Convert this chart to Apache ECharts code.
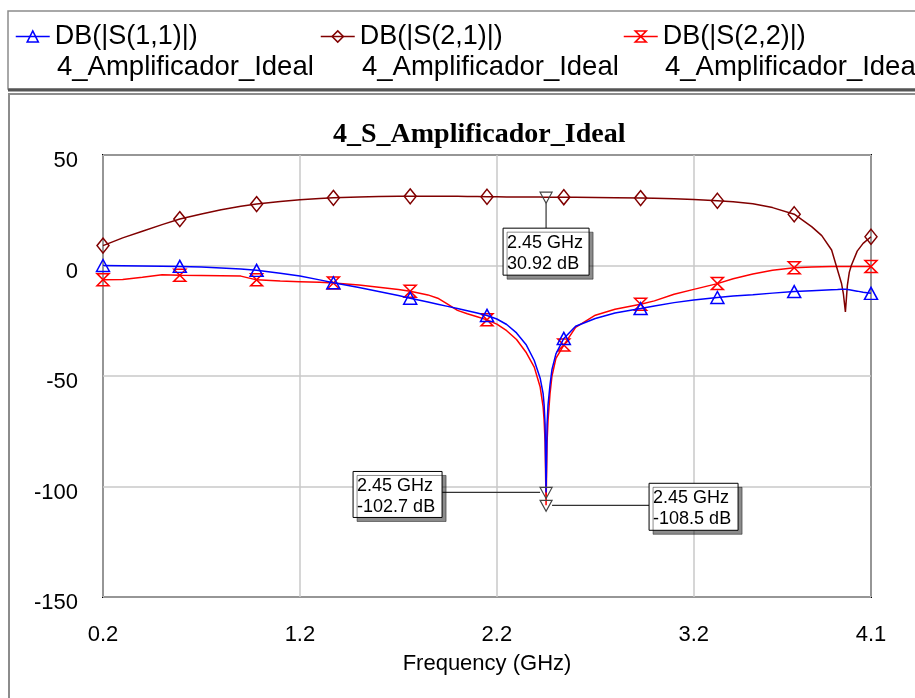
<!DOCTYPE html>
<html>
<head>
<meta charset="utf-8">
<title>4_S_Amplificador_Ideal</title>
<script src="https://cdn.jsdelivr.net/npm/echarts@6/dist/echarts.min.js"></script>
<style>
    html, body { margin: 0; padding: 0; background: #fff; }
    #chart { width: 915px; height: 698px; }
</style>
</head>
<body>
<div id="chart"></div>
<script>
    // frecuencias (GHz), mismas para las tres trazas
    const freq = [
        0.2, 0.3, 0.4, 0.5, 0.59, 0.7, 0.8, 0.9, 0.98,
        1.1, 1.2, 1.3, 1.37, 1.5, 1.6, 1.7, 1.76, 1.85, 1.9, 1.95, 2.0, 2.05, 2.1, 2.15,
        2.2, 2.25, 2.3, 2.35, 2.39, 2.42, 2.435, 2.44, 2.445, 2.45, 2.455, 2.46, 2.47, 2.48, 2.5, 2.54,
        2.6, 2.7, 2.8, 2.93, 3.0, 3.1, 3.2, 3.32, 3.4, 3.5, 3.6, 3.71,
        3.8, 3.85, 3.9, 3.93, 3.95, 3.96, 3.97, 3.98, 3.99, 4.0, 4.03, 4.06, 4.1
    ];
    const s11 = [
        0, -0.1, -0.2, -0.3, -0.4, -0.7, -1.1, -1.6, -2.2,
        -3.5, -4.8, -6.5, -7.8, -10, -11.8, -13.6, -14.8, -16.5, -17.5, -18.5, -19.5, -20.5, -21.5, -22.6,
        -24.2, -26.7, -30.5, -36, -43, -51, -58, -63, -72, -102.7, -72, -63, -54, -47, -40, -33,
        -27.5, -24, -21.5, -19.5, -18.3, -16.8, -15.6, -14.5, -13.8, -13.2, -12.5, -11.8,
        -11.4, -11.2, -11, -10.9, -10.8, -10.8, -10.8, -10.9, -11, -11.2, -11.6, -12.1, -12.6
    ];
    const s21 = [
        9, 12.5, 15.5, 18.5, 21, 23.3, 25.2, 26.8, 27.8,
        29, 29.8, 30.3, 30.6, 31, 31.2, 31.3, 31.3, 31.3, 31.3, 31.3, 31.3, 31.2, 31.2, 31.1,
        31.1, 31.0, 31.0, 31.0, 30.95, 30.95, 30.93, 30.92, 30.92, 30.92, 30.92, 30.9, 30.9, 30.9, 30.9, 30.9,
        30.9, 30.8, 30.7, 30.5, 30.4, 30.2, 29.9, 29.3, 28.8, 27.9, 26.2, 23.2,
        17.5, 13.5, 7, -2, -8, -13, -21, -9, -3, 0, 6.5, 10, 13
    ];
    const s22 = [
        -6.4, -6.3, -5.3, -4.2, -4.4, -4.5, -4.6, -4.8, -6.5,
        -7, -7.3, -7.6, -7.9, -8.8, -9.8, -10.9, -11.7, -13.3, -14.8, -17.5, -20.3, -21.8, -23.2, -24.6,
        -26.5, -29.5, -33.5, -39.5, -46, -55, -64, -70, -80, -108.5, -80, -70, -58, -50, -42, -36,
        -28, -22.5, -19.8, -17.5, -16, -13, -10.8, -8.2, -6, -3.8, -2.2, -1,
        -0.7, -0.6, -0.5, -0.5, -0.5, -0.5, -0.5, -0.5, -0.5, -0.5, -0.5, -0.5, -0.5
    ];
    // puntos donde se dibujan los simbolos
    const markerFreq = [0.2, 0.59, 0.98, 1.37, 1.76, 2.15, 2.54, 2.93, 3.32, 3.71, 4.1];

    const seriesNames = ['DB(|S(1,1)|)', 'DB(|S(2,1)|)', 'DB(|S(2,2)|)'];
    const designName = '4_Amplificador_Ideal';
    const chartTitle = '4_S_Amplificador_Ideal';

    // marcadores m1..m3
    const noteFreq = [2.45, 2.45, 2.45];
    const noteVal = [30.92, -102.7, -108.5];

    const SANS = '"Liberation Sans", Arial, sans-serif';
    const colors = ['#0000ff', '#800000', '#ff0000'];
    const symbols = ['triangle', 'diamond', 'path://M0,0L10,0L0,10L10,10Z'];
    const sizes = [[13, 12], [12, 15], [12, 12]];
    const values = [s11, s21, s22];

    const chart = echarts.init(document.getElementById('chart'));

    const series = values.map((vals, k) => ({
        name: seriesNames[k],
        type: 'line',
        data: freq.map((f, i) => [f, vals[i]]),
        symbol: symbols[k],
        symbolSize: v => (markerFreq.includes(v[0]) ? sizes[k] : 0),
        showSymbol: true,
        lineStyle: { color: colors[k], width: 1.5 },
        itemStyle: { color: 'rgba(0,0,0,0)', borderColor: colors[k], borderWidth: 1.5 },
        emphasis: { disabled: true },
        animation: false,
        z: 3 - k
    }));

    const legendLeft = [15, 320, 623];
    const legends = seriesNames.map((n, k) => ({
        data: [{
            name: n,
            itemStyle: { color: 'rgba(0,0,0,0)', borderColor: colors[k], borderWidth: 1.5 },
            lineStyle: { color: colors[k], width: 1.5 }
        }],
        left: legendLeft[k],
        top: 23,
        padding: 0,
        itemWidth: 34,
        itemHeight: 14,
        itemGap: 5,
        selectedMode: false,
        textStyle: { fontSize: 27, fontFamily: SANS, color: '#000' }
    }));

    const option = {
        backgroundColor: '#fff',
        animation: false,
        title: {
            text: chartTitle,
            left: 333,
            top: 121,
            padding: 0,
            textStyle: { fontFamily: '"Liberation Serif", "Times New Roman", serif', fontWeight: 'bold', fontSize: 28, color: '#000' }
        },
        legend: legends,
        grid: {
            left: 103, right: 44, top: 155, bottom: 101,
            show: true, borderColor: '#000', borderWidth: 2, backgroundColor: 'transparent'
        },
        xAxis: {
            type: 'value',
            min: 0.2,
            max: 4.1,
            interval: 1,
            name: 'Frequency (GHz)',
            nameLocation: 'middle',
            nameGap: 56,
            nameTextStyle: { fontSize: 22, fontFamily: SANS, color: '#000' },
            axisLine: { show: false },
            axisTick: { show: false },
            axisLabel: { fontSize: 22, fontFamily: SANS, color: '#000', margin: 27, formatter: v => String(+v.toFixed(1)) },
            splitLine: { show: true, lineStyle: { color: '#c8c8c8', width: 1.5 } }
        },
        yAxis: {
            type: 'value',
            min: -150,
            max: 50,
            interval: 50,
            axisLine: { show: false },
            axisTick: { show: false },
            axisLabel: { fontSize: 22, fontFamily: SANS, color: '#000', margin: 25, verticalAlign: 'top', lineHeight: 12 },
            splitLine: { show: true, lineStyle: { color: '#c8c8c8', width: 1.5 } }
        },
        series: series
    };

    chart.setOption(option);

    // marcos, segunda linea de la leyenda y cajas de marcadores
    const graphics = [
        { type: 'rect', shape: { x: 8, y: 11, width: 930, height: 78 }, style: { fill: 'none', stroke: '#8c8c8c', lineWidth: 1.5 }, z: 0 },
        { type: 'line', shape: { x1: 8, y1: 90, x2: 930, y2: 90 }, style: { stroke: '#555', lineWidth: 3 }, z: 0 },
        { type: 'rect', shape: { x: 9, y: 94, width: 930, height: 640 }, style: { fill: 'none', stroke: '#8c8c8c', lineWidth: 2 }, z: 0 }
    ];
    legendLeft.forEach((x, k) => {
        graphics.push({
            type: 'text',
            style: { text: designName, x: x + 42, y: 67, fontSize: 27.5, fontFamily: SANS, fill: '#000', verticalAlign: 'middle' },
            z: 10
        });
    });

    const noteLayout = [
        { dx: -43, dy: 31, w: 86, h: 47, lead: 'down' },
        { dx: -193, dy: -21, w: 89, h: 46, lead: 'left' },
        { dx: 103, dy: -22, w: 89, h: 47, lead: 'right' }
    ];
    noteFreq.forEach((f, i) => {
        const [px, py] = chart.convertToPixel({ gridIndex: 0 }, [f, noteVal[i]]);
        const L = noteLayout[i];
        const bx = px + L.dx, by = py + L.dy;
        let line;
        if (L.lead === 'down') line = { x1: px, y1: py + 6, x2: px, y2: by };
        else if (L.lead === 'left') line = { x1: px - 6, y1: py, x2: bx + L.w, y2: py };
        else line = { x1: px + 6, y1: py, x2: bx, y2: py };
        graphics.push({ type: 'line', shape: line, style: { stroke: '#333', lineWidth: 1.2 }, z: 20 });
        graphics.push({
            type: 'polygon',
            shape: { points: [[px - 6, py - 5], [px + 6, py - 5], [px, py + 6]] },
            style: { fill: 'none', stroke: '#444', lineWidth: 1.2 },
            z: 21
        });
        graphics.push({
            type: 'rect',
            shape: { x: bx, y: by, width: L.w, height: L.h },
            style: { fill: '#fff', stroke: '#000', lineWidth: 1, shadowColor: 'rgba(0,0,0,0.45)', shadowOffsetX: 4, shadowOffsetY: 4, shadowBlur: 0 },
            z: 22
        });
        graphics.push({
            type: 'text',
            style: {
                text: f + ' GHz\n' + noteVal[i] + ' dB',
                x: bx + 4, y: by + 4,
                fontSize: 18, lineHeight: 21, fontFamily: SANS, fill: '#000', verticalAlign: 'top'
            },
            z: 23
        });
    });

    chart.setOption({ graphic: graphics });
</script>
</body>
</html>
